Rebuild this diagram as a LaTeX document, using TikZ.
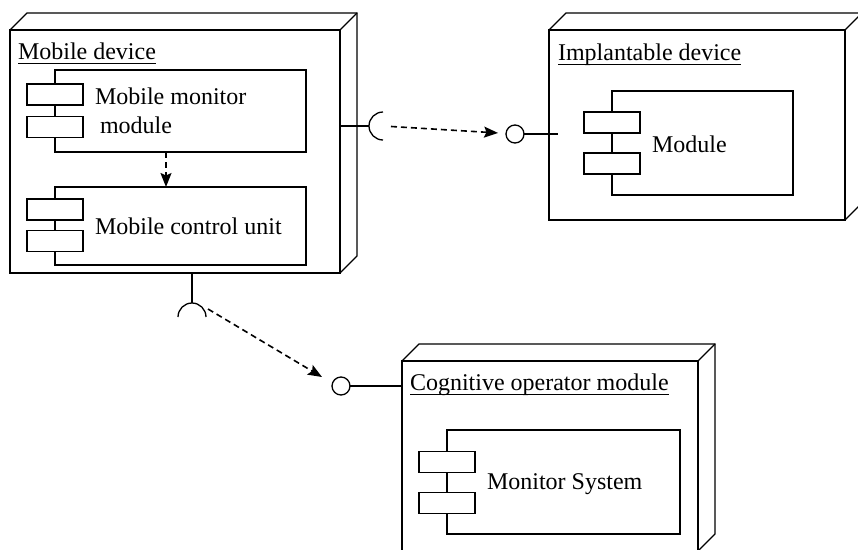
\documentclass[tikz,border=0pt]{standalone}
\usepackage{fontspec}
\setmainfont{Liberation Serif}
\usetikzlibrary{arrows.meta,calc}

% 3-D side and top of a deployment node
\newcommand{\nodedepth}[1]{%
  \draw (#1.north west) -- ++(17,-17) -| ($(#1.south east)+(17,-17)$) -- (#1.south east);
  \draw (#1.north east) -- ++(17,-17);}
% underline under a node's name
\newcommand{\nameline}[1]{%
  \draw ($(#1.base west)+(0,4.5)$) -- ($(#1.base east)+(0,4.5)$);}

\begin{document}
\begin{tikzpicture}[x=1pt,y=-1pt,line width=1.3pt,
  face/.style={draw,rectangle,inner sep=0pt,outer sep=0pt,anchor=north west},
  comp/.style={draw,fill=white,rectangle,inner sep=0pt,outer sep=0pt,anchor=north west},
  tab/.style={draw,fill=white,rectangle,inner sep=0pt,outer sep=0pt,minimum width=56pt,minimum height=21pt},
  txt/.style={anchor=base west,inner sep=0pt,outer sep=0pt,font=\fontsize{24}{28}\selectfont},
  lolli/.style={draw,circle,minimum size=18pt,inner sep=0pt,outer sep=0pt},
  dep/.style={line width=1.6pt,dash pattern=on 6pt off 4pt,-{Stealth[length=14pt,width=11pt,inset=2.5pt]}},
]
\clip (0,0) rectangle (858,549);

% Mobile device
\node[face,minimum width=330pt,minimum height=243pt] (mob) at (10,30) {};
\nodedepth{mob}
\node[txt] (mobname) at (18,59) {Mobile device};
\nameline{mobname}

\node[comp,minimum width=251pt,minimum height=82pt] (mmm) at (55,70) {};
\node[tab] (mmmA) at (55,94.5) {};
\node[tab] (mmmB) at (55,127) {};
\node[txt] (mmmT1) at (95,104) {Mobile monitor};
\node[txt] (mmmT2) at (100,133) {module};

\node[comp,minimum width=251pt,minimum height=78pt] (mcu) at (55,187) {};
\node[tab] (mcuA) at (55,209.5) {};
\node[tab] (mcuB) at (55,241) {};
\node[txt] (mcuT) at (95,234) {Mobile control unit};

\draw[dep] ($(mmm.south west)+(111,0)$) -- ($(mcu.north west)+(111,0)$);

% Implantable device
\node[face,minimum width=296pt,minimum height=190pt] (imp) at (549,30) {};
\nodedepth{imp}
\node[txt] (impname) at (558,60) {Implantable device};
\nameline{impname}

\node[comp,minimum width=181pt,minimum height=104pt] (mod) at (612,91) {};
\node[tab] (modA) at (612,122.5) {};
\node[tab] (modB) at (612,163.5) {};
\node[txt] (modT) at (652,152) {Module};

% Cognitive operator module
\node[face,minimum width=296pt,minimum height=190pt] (cog) at (402,361) {};
\nodedepth{cog}
\node[txt] (cogname) at (410,390) {Cognitive operator module};
\nameline{cogname}

\node[comp,minimum width=233pt,minimum height=104pt] (mon) at (447,430) {};
\node[tab] (monA) at (447,462) {};
\node[tab] (monB) at (447,503) {};
\node[txt] (monT) at (487,489) {Monitor System};

% Mobile device -> Implantable device
\coordinate (s1) at (383,126);
\draw (mob.east |- s1) -- ([xshift=-14pt]s1);
\draw ([yshift=14pt]s1) arc[start angle=90,end angle=270,radius=14pt];
\node[lolli] (p1) at (515,134) {};
\draw[dep] ($(s1)!8pt!(p1)$) -- ($(p1)!17pt!(s1)$);
\draw (p1.east) -- ($(imp.west |- p1)+(9,0)$);

% Mobile device -> Cognitive operator module
\coordinate (s2) at (192,317);
\draw (mob.south -| s2) -- ([yshift=14pt]s2);
\draw ([xshift=-14pt]s2) arc[start angle=180,end angle=0,radius=14pt];
\node[lolli] (p2) at (341,386) {};
\draw[dep] ($(s2)+(16,-8)$) -- ($(p2)+(-19,-9)$);
\draw (p2.east) -- (cog.west |- p2);
\end{tikzpicture}
\end{document}
